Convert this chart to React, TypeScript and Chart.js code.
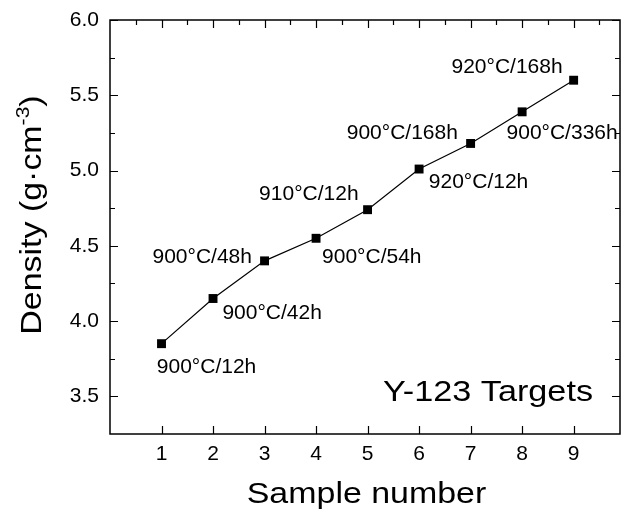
import React, { useEffect, useRef } from "react";
import { Chart, registerables } from "chart.js";

Chart.register(...registerables);

// ---- data ----
const sampleNumbers = [1, 2, 3, 4, 5, 6, 7, 8, 9];
const densities = [3.85, 4.15, 4.4, 4.55, 4.74, 5.01, 5.18, 5.39, 5.6];
const conditions = [
  "900°C/12h",
  "900°C/42h",
  "900°C/48h",
  "900°C/54h",
  "910°C/12h",
  "920°C/12h",
  "900°C/168h",
  "900°C/336h",
  "920°C/168h",
];
const xTickValues = [1, 2, 3, 4, 5, 6, 7, 8, 9];
const xMinorTickValues = [0.5, 1.5, 2.5, 3.5, 4.5, 5.5, 6.5, 7.5, 8.5, 9.5];
const yTickValues = [3.5, 4.0, 4.5, 5.0, 5.5, 6.0];
const yMinorTickValues = [3.75, 4.25, 4.75, 5.25, 5.75];
const xTitle = "Sample number";
const yTitleMain = "Density (g·cm";
const yTitleSup = "-3";
const yTitleEnd = ")";
const panelLabel = "Y-123 Targets";

// ---- label placement (offsets from each point, px) ----
const labelPlacement = [
  { dx: -4.7, dy: 29, align: "left" },
  { dx: 9.4, dy: 20, align: "left" },
  { dx: -12.6, dy: 2, align: "right" },
  { dx: 6, dy: 24.7, align: "left" },
  { dx: -9, dy: -9.5, align: "right" },
  { dx: 9.7, dy: 18.8, align: "left" },
  { dx: -12.7, dy: -4.3, align: "right" },
  { dx: -15.6, dy: 27.3, align: "left" },
  { dx: -11, dy: -7.3, align: "right" },
];

const FONT = "'Liberation Sans', Arial, Helvetica, sans-serif";
const STRETCH = 1.17;

const framePlugin = {
  id: "originFrame",
  afterDraw(chart: any) {
    const { ctx, chartArea } = chart;
    const { left, right, top, bottom } = chartArea;
    const xs = chart.scales.x;
    const ys = chart.scales.y;
    ctx.save();
    ctx.strokeStyle = "#000";
    ctx.lineWidth = 1.5;
    ctx.strokeRect(left, top, right - left, bottom - top);
    ctx.lineWidth = 1.2;
    ctx.beginPath();
    const major = 8;
    const minor = 5;
    xTickValues.forEach((v) => {
      const px = Math.round(xs.getPixelForValue(v)) + 0.5;
      ctx.moveTo(px, bottom);
      ctx.lineTo(px, bottom - major);
      ctx.moveTo(px, top);
      ctx.lineTo(px, top + major);
    });
    xMinorTickValues.forEach((v) => {
      const px = Math.round(xs.getPixelForValue(v)) + 0.5;
      ctx.moveTo(px, top);
      ctx.lineTo(px, top + minor);
    });
    yTickValues.forEach((v) => {
      const py = Math.round(ys.getPixelForValue(v)) + 0.5;
      ctx.moveTo(left, py);
      ctx.lineTo(left + major, py);
      ctx.moveTo(right, py);
      ctx.lineTo(right - major, py);
    });
    yMinorTickValues.forEach((v) => {
      const py = Math.round(ys.getPixelForValue(v)) + 0.5;
      ctx.moveTo(left, py);
      ctx.lineTo(left + minor, py);
      ctx.moveTo(right, py);
      ctx.lineTo(right - minor, py);
    });
    ctx.stroke();

    // point annotations
    ctx.fillStyle = "#000";
    ctx.font = `21px ${FONT}`;
    ctx.textBaseline = "alphabetic";
    const meta = chart.getDatasetMeta(0);
    meta.data.forEach((pt: any, i: number) => {
      const p = labelPlacement[i];
      ctx.textAlign = p.align as CanvasTextAlign;
      ctx.fillText(conditions[i], pt.x + p.dx, pt.y + p.dy);
    });

    // panel label
    ctx.save();
    ctx.font = `29px ${FONT}`;
    ctx.textAlign = "right";
    ctx.translate(right - 27, bottom - 33);
    ctx.scale(1.18, 1);
    ctx.fillText(panelLabel, 0, 0);
    ctx.restore();

    // x title
    ctx.save();
    ctx.font = `29px ${FONT}`;
    ctx.textAlign = "center";
    ctx.translate((left + right) / 2 + 1.5, chart.height - 14);
    ctx.scale(STRETCH, 1);
    ctx.fillText(xTitle, 0, 0);
    ctx.restore();

    // y title
    ctx.save();
    ctx.translate(41, 215);
    ctx.rotate(-Math.PI / 2);
    ctx.scale(1.17, 1);
    ctx.textAlign = "left";
    ctx.font = `29px ${FONT}`;
    const w1 = ctx.measureText(yTitleMain).width;
    const w3 = ctx.measureText(yTitleEnd).width;
    ctx.font = `18px ${FONT}`;
    const w2 = ctx.measureText(yTitleSup).width;
    const total = w1 + w2 + w3;
    let x0 = -total / 2;
    ctx.font = `29px ${FONT}`;
    ctx.fillText(yTitleMain, x0, 0);
    x0 += w1;
    ctx.font = `18px ${FONT}`;
    ctx.fillText(yTitleSup, x0, -12);
    x0 += w2;
    ctx.font = `29px ${FONT}`;
    ctx.fillText(yTitleEnd, x0, 0);
    ctx.restore();

    ctx.restore();
  },
};

export default function App() {
  const canvasRef = useRef<HTMLCanvasElement | null>(null);

  useEffect(() => {
    const canvas = canvasRef.current;
    if (!canvas) return;
    const chart = new Chart(canvas, {
      type: "line",
      data: {
        datasets: [
          {
            data: sampleNumbers.map((x, i) => ({ x, y: densities[i] })),
            borderColor: "#000",
            backgroundColor: "#000",
            borderWidth: 1.2,
            pointStyle: "rect",
            pointRadius: 6.3,
            pointBorderWidth: 0,
            pointBackgroundColor: "#000",
            tension: 0,
          },
        ],
      },
      options: {
        animation: false,
        responsive: false,
        devicePixelRatio: 1,
        layout: { autoPadding: false, padding: { top: 20, right: 1, left: 0, bottom: 0 } },
        plugins: {
          legend: { display: false },
          tooltip: { enabled: false },
          title: { display: false },
        },
        scales: {
          x: {
            type: "linear",
            min: 0,
            max: 9.9,
            grid: { display: false, drawTicks: false },
            border: { display: false },
            afterBuildTicks: (scale: any) => {
              scale.ticks = xTickValues.map((v) => ({ value: v }));
            },
            afterFit: (scale: any) => {
              scale.height = 83;
              scale.paddingLeft = 0;
              scale.paddingRight = 0;
              scale.paddingTop = 0;
              scale.paddingBottom = 0;
            },
            ticks: {
              color: "#000",
              padding: 8,
              maxRotation: 0,
              font: { family: FONT, size: 21 },
              callback: (v: any) => String(v),
            },
          },
          y: {
            type: "linear",
            min: 3.25,
            max: 6.0,
            grid: { display: false, drawTicks: false },
            border: { display: false },
            afterBuildTicks: (scale: any) => {
              scale.ticks = yTickValues.map((v) => ({ value: v }));
            },
            afterFit: (scale: any) => {
              scale.width = 110;
              scale.paddingLeft = 0;
              scale.paddingRight = 0;
              scale.paddingTop = 0;
              scale.paddingBottom = 0;
            },
            ticks: {
              color: "#000",
              padding: 11,
              font: { family: FONT, size: 21 },
              callback: (v: any) => Number(v).toFixed(1),
            },
          },
        },
      },
      plugins: [framePlugin],
    } as any);
    return () => chart.destroy();
  }, []);

  return (
    <div style={{ position: "fixed", left: 0, top: 0, width: 621, height: 517, background: "#fff" }}>
      <canvas ref={canvasRef} width={621} height={517} style={{ display: "block" }} />
    </div>
  );
}
